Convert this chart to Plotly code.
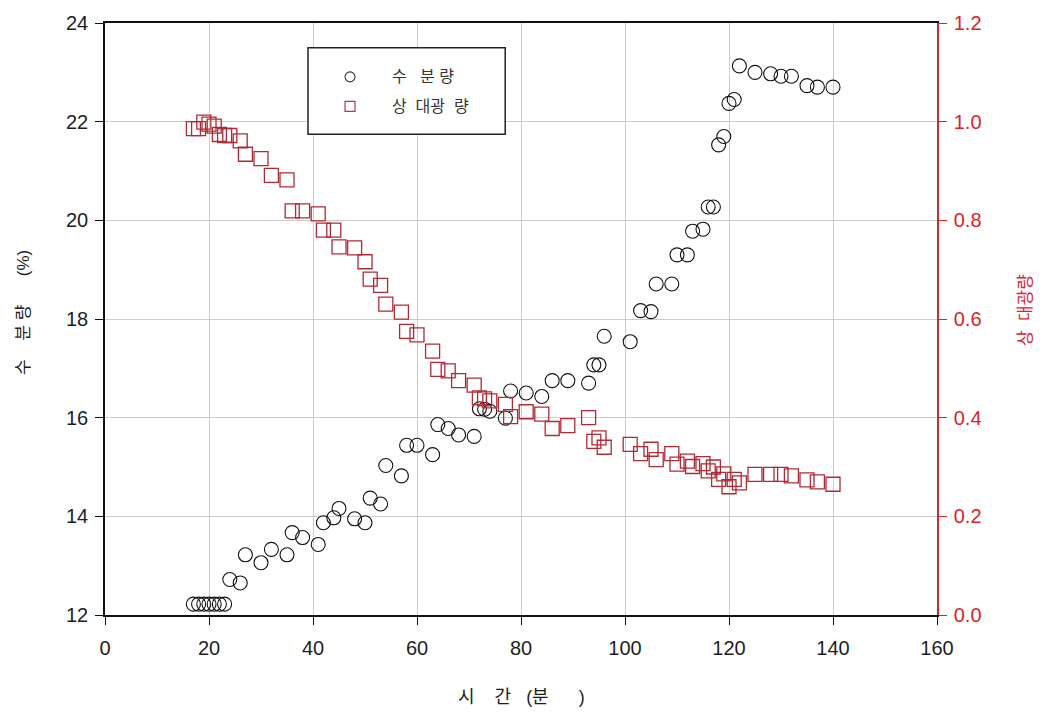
import plotly.graph_objects as go

# 수분량 (moisture content, %) vs time (min)
t_moist = [17, 18, 19, 20, 21, 22, 23, 24, 26, 27, 30, 32, 35, 36, 38, 41, 42, 44, 45,
           48, 50, 51, 53, 54, 57, 58, 60, 63, 64, 66, 68, 71, 72, 73, 74, 77, 78,
           81, 84, 86, 89, 93, 94, 95, 96, 101, 103, 105, 106, 109, 110, 112, 113,
           115, 116, 117, 118, 119, 120, 121, 122, 125, 128, 130, 132, 135, 137, 140]
moisture = [12.22, 12.22, 12.22, 12.22, 12.22, 12.22, 12.22, 12.72, 12.65, 13.22, 13.06,
            13.33, 13.22, 13.67, 13.57, 13.43, 13.87, 13.97, 14.16, 13.95, 13.87, 14.37,
            14.25, 15.03, 14.82, 15.44, 15.44, 15.25, 15.86, 15.78, 15.65, 15.62, 16.18,
            16.17, 16.13, 15.99, 16.54, 16.50, 16.43, 16.75, 16.75, 16.70, 17.07, 17.07,
            17.65, 17.54, 18.17, 18.15, 18.71, 18.71, 19.30, 19.30, 19.78, 19.82, 20.27,
            20.27, 21.53, 21.70, 22.37, 22.45, 23.13, 23.00, 22.97, 22.92, 22.92, 22.73,
            22.70, 22.70]

# 상대광량 (relative light quantity) vs time (min)
t_light = [17, 18, 19, 20, 21, 22, 23, 24, 26, 27, 30, 32, 35, 36, 38, 41, 42, 44, 45,
           48, 50, 51, 53, 54, 57, 58, 60, 63, 64, 66, 68, 71, 72, 73, 74, 77, 78,
           81, 84, 86, 89, 93, 94, 95, 96, 101, 103, 105, 106, 109, 110, 112, 113,
           115, 116, 117, 118, 119, 120, 121, 122, 125, 128, 130, 132, 135, 137, 140]
light = [0.986, 0.986, 0.999, 0.995, 0.991, 0.974, 0.972, 0.972, 0.961, 0.934, 0.925,
         0.891, 0.882, 0.819, 0.819, 0.813, 0.780, 0.780, 0.746, 0.744, 0.716, 0.681,
         0.668, 0.630, 0.614, 0.575, 0.568, 0.535, 0.498, 0.495, 0.475, 0.466, 0.440,
         0.438, 0.434, 0.427, 0.402, 0.412, 0.407, 0.378, 0.384, 0.400, 0.352, 0.359,
         0.340, 0.346, 0.327, 0.336, 0.315, 0.327, 0.306, 0.312, 0.301, 0.307, 0.292,
         0.300, 0.275, 0.286, 0.260, 0.275, 0.268, 0.285, 0.285, 0.285, 0.282, 0.274,
         0.270, 0.265]

x_ticks = [0, 20, 40, 60, 80, 100, 120, 140, 160]
y_ticks = [12, 14, 16, 18, 20, 22, 24]
y2_ticks = [0.0, 0.2, 0.4, 0.6, 0.8, 1.0, 1.2]

NB = "\u00a0"
name_moist = "수" + NB * 3 + "분" + NB + "량"
name_light = "상" + NB * 2 + "대광" + NB * 2 + "량"
x_title = "시" + NB * 4 + "간" + NB * 3 + "(분" + NB * 6 + ")"
y_title = "수" + NB * 4 + "분" + NB + "량" + NB * 6 + "(%)"
y2_title = "상" + NB * 2 + "대광량"

FONT = "Liberation Sans, Arial, Noto Sans CJK KR"
RED = "#d9232d"
SQ = "#b02a35"
INK = "#1e1e1e"

fig = go.Figure()
fig.add_trace(go.Scatter(
    x=t_moist, y=moisture, mode="markers", name=name_moist,
    marker=dict(symbol="circle-open", size=14, color="#111111", line=dict(width=1.1)),
))
fig.add_trace(go.Scatter(
    x=t_light, y=light, mode="markers", name=name_light, yaxis="y2",
    marker=dict(symbol="square-open", size=14, color=SQ, line=dict(width=1.3)),
))

# legend geometry (paper coords)
L_X0, L_X1, L_Y0, L_Y1 = 0.244, 0.481, 0.812, 0.958
SYM_X, TXT_X = 0.2945, 0.3425
ROW1, ROW2 = 0.909, 0.859

shapes = [
    dict(type="rect", xref="paper", yref="paper", x0=L_X0, x1=L_X1, y0=L_Y0, y1=L_Y1,
         line=dict(color="#222222", width=1.5), fillcolor="white", layer="above"),
    dict(type="circle", xref="paper", yref="paper", xsizemode="pixel", ysizemode="pixel",
         xanchor=SYM_X, yanchor=ROW1, x0=-5, x1=5, y0=-5, y1=5,
         line=dict(color="#333333", width=1.1), layer="above"),
    dict(type="rect", xref="paper", yref="paper", xsizemode="pixel", ysizemode="pixel",
         xanchor=SYM_X, yanchor=ROW2, x0=-5, x1=5, y0=-5, y1=5,
         line=dict(color="#c0304a", width=1.2), layer="above"),
]

fig.update_layout(
    width=1043, height=719,
    margin=dict(l=105, r=106, t=19, b=104),
    paper_bgcolor="white", plot_bgcolor="white",
    font=dict(family=FONT, size=20, color=INK),
    showlegend=False,
    shapes=shapes,
    xaxis=dict(
        range=[0, 160], tickvals=x_ticks, showline=True, linecolor="#111111", linewidth=1.5,
        mirror=True, ticks="outside", ticklen=8, tickcolor="#111111", tickwidth=1.2,
        showgrid=True, gridcolor="#cccccc", gridwidth=1, zeroline=False,
        ticklabelstandoff=6,
    ),
    yaxis=dict(
        range=[12, 24], tickvals=y_ticks, showline=True, linecolor="#111111", linewidth=1.5,
        ticks="outside", ticklen=8, tickcolor="#111111", tickwidth=1.2,
        showgrid=True, gridcolor="#cccccc", gridwidth=1, zeroline=False,
        ticklabelstandoff=3,
    ),
    yaxis2=dict(
        range=[0, 1.2], tickvals=y2_ticks, tickformat=".1f", overlaying="y", side="right",
        showline=True, linecolor=RED, linewidth=1.5, ticks="outside", ticklen=8,
        tickcolor=RED, tickwidth=1.2, tickfont=dict(color=RED, size=20, family=FONT),
        showgrid=False, zeroline=False, ticklabelstandoff=3,
    ),
    annotations=[
        dict(text=name_moist, xref="paper", yref="paper", x=TXT_X, y=ROW1, showarrow=False,
             xanchor="left", yanchor="middle", font=dict(family=FONT, size=16, color="#333333")),
        dict(text=name_light, xref="paper", yref="paper", x=TXT_X, y=ROW2, showarrow=False,
             xanchor="left", yanchor="middle", font=dict(family=FONT, size=16, color="#333333")),
        dict(text=x_title, xref="paper", yref="paper", x=0.5, y=0, yshift=-82,
             showarrow=False, font=dict(family=FONT, size=18, color=INK),
             xanchor="center", yanchor="middle"),
        dict(text=y_title, xref="paper", yref="paper", x=0, y=0.51, xshift=-82,
             textangle=-90, showarrow=False, font=dict(family=FONT, size=17, color=INK),
             xanchor="center", yanchor="middle"),
        dict(text=y2_title, xref="paper", yref="paper", x=1, y=0.515, xshift=88,
             textangle=-90, showarrow=False, font=dict(family=FONT, size=17, color=RED),
             xanchor="center", yanchor="middle"),
    ],
)

fig.write_html("out.html", config={"displayModeBar": False},
               post_script="document.body.style.margin='0px';")
